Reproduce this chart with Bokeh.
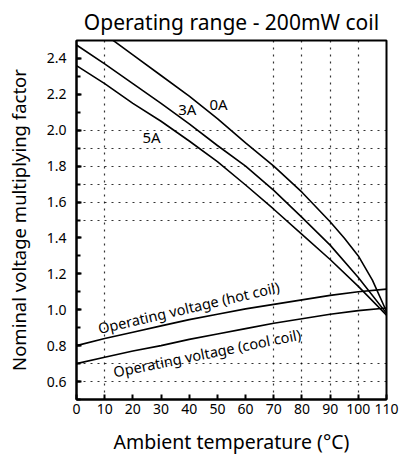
from bokeh.plotting import figure
from bokeh.models import SingleIntervalTicker, FixedTicker, PrintfTickFormatter, Label, Range1d
from bokeh.embed import file_html
from bokeh.resources import INLINE

# ---- data ----
temps = [0, 10, 20, 30, 40, 50, 60, 70, 80, 90, 100, 110]
hot_coil = [0.80, 0.84, 0.875, 0.91, 0.945, 0.975, 1.005, 1.03, 1.055, 1.08, 1.10, 1.115]
cool_coil = [0.70, 0.735, 0.77, 0.80, 0.835, 0.865, 0.895, 0.925, 0.95, 0.975, 0.995, 1.01]

temps_0a = [10, 20, 30, 40, 50, 60, 70, 80, 90, 95, 100, 105, 110]
curve_0a = [2.535, 2.42, 2.305, 2.19, 2.065, 1.93, 1.80, 1.655, 1.49, 1.40, 1.30, 1.165, 0.99]
curve_3a = [2.475, 2.37, 2.26, 2.15, 2.035, 1.915, 1.80, 1.665, 1.515, 1.36, 1.18, 0.98]
curve_5a = [2.36, 2.26, 2.15, 2.05, 1.94, 1.825, 1.695, 1.56, 1.42, 1.28, 1.13, 0.97]

curve_labels = ["0A", "3A", "5A"]
curve_label_x = [50.4, 39.3, 26.6]
curve_label_y = [2.146, 2.117, 1.96]

x_grid_ticks = [10, 70, 80, 90, 100]
y_grid_ticks = [0.6, 0.7, 1.5, 1.6, 1.7, 1.8, 1.9, 2.0]

FONT = "Noto Sans"

p = figure(width=408, height=457, output_backend="svg", toolbar_location=None,
           x_range=Range1d(0, 110), y_range=Range1d(0.5, 2.5),
           title="Operating range - 200mW coil",
           min_border_left=76, min_border_right=22, min_border_top=38, min_border_bottom=57)

p.title.text_font = FONT
p.title.text_font_size = "21px"
p.title.text_font_style = "normal"
p.title.text_color = "black"
p.title.align = "center"
p.title.standoff = 10

p.outline_line_color = "black"
p.outline_line_width = 2
p.outline_line_alpha = 1

p.xaxis.ticker = SingleIntervalTicker(interval=10, num_minor_ticks=0)
p.yaxis.ticker = SingleIntervalTicker(interval=0.2, num_minor_ticks=2)
p.yaxis.formatter = PrintfTickFormatter(format="%.1f")

for ax in (p.xaxis[0], p.yaxis[0]):
    ax.axis_line_width = 2
    ax.axis_line_color = "black"
    ax.major_tick_in = 5
    ax.major_tick_out = 0
    ax.minor_tick_in = 4
    ax.minor_tick_out = 0
    ax.major_tick_line_color = "black"
    ax.major_tick_line_width = 2
    ax.minor_tick_line_color = "black"
    ax.minor_tick_line_width = 2
    ax.major_label_text_font = FONT
    ax.major_label_text_font_size = "14px"
    ax.major_label_text_color = "black"
    ax.axis_label_text_font = FONT
    ax.axis_label_text_font_style = "normal"
    ax.axis_label_text_color = "black"

p.xaxis.axis_label = "Ambient temperature (°C)"
p.xaxis.axis_label_text_font_size = "19.5px"
p.xaxis.major_label_standoff = 4
p.xaxis.axis_label_standoff = 11
p.yaxis.axis_label = "Nominal voltage multiplying factor"
p.yaxis.axis_label_text_font_size = "18.5px"
p.yaxis.major_label_standoff = 10
p.yaxis.axis_label_standoff = 13

p.xgrid.ticker = FixedTicker(ticks=x_grid_ticks)
p.ygrid.ticker = FixedTicker(ticks=y_grid_ticks)
for g in (p.xgrid[0], p.ygrid[0]):
    g.grid_line_color = "black"
    g.grid_line_alpha = 0.8
    g.grid_line_dash = "2 5"
    g.grid_line_width = 1.2

lw = 1.6
p.line(temps_0a, curve_0a, line_color="black", line_width=lw)
p.line(temps, curve_3a, line_color="black", line_width=lw)
p.line(temps, curve_5a, line_color="black", line_width=lw)
p.line(temps, hot_coil, line_color="black", line_width=lw)
p.line(temps, cool_coil, line_color="black", line_width=lw)

for t, x, y in zip(curve_labels, curve_label_x, curve_label_y):
    p.add_layout(Label(x=x, y=y, text=t, text_font=FONT, text_font_size="15px",
                       text_align="center", text_baseline="middle", text_color="black"))

p.add_layout(Label(x=7.7, y=0.897, text="Operating voltage (hot coil)", angle=0.228,
                   text_font=FONT, text_font_size="14.5px", text_align="left",
                   text_baseline="alphabetic", text_color="black"))
p.add_layout(Label(x=13.1, y=0.655, text="Operating voltage (cool coil)", angle=0.2,
                   text_font=FONT, text_font_size="14.5px", text_align="left",
                   text_baseline="alphabetic", text_color="black"))

open("out.html", "w").write(file_html(p, INLINE))
